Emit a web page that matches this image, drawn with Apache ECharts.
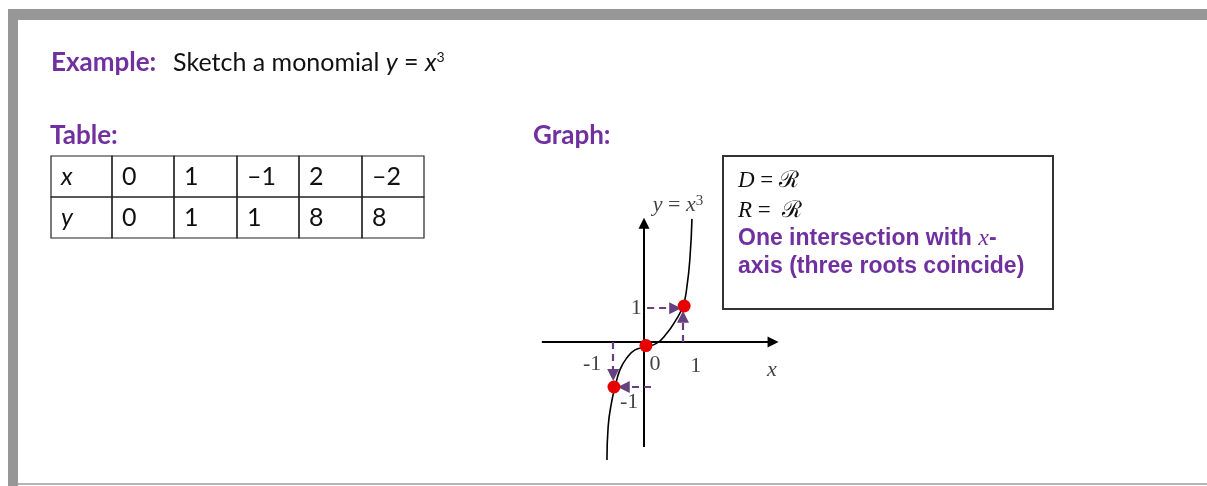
<!DOCTYPE html>
<html>
<head>
<meta charset="utf-8">
<script src="https://cdn.jsdelivr.net/npm/echarts@6/dist/echarts.min.js"></script>
<style>
  html, body { margin: 0; padding: 0; background: #fff; }
  #main { width: 1207px; height: 486px; }
</style>
</head>
<body>
<div id="main"></div>
<script>
// table contents
const tableRowNames = ['x', 'y'];
const tableX = ['0', '1', '–1', '2', '–2'];
const tableY = ['0', '1', '1', '8', '8'];

// curve y = x^3 as sketched
const curveX = [-0.95, -0.92, -0.82, -0.74, -0.62, -0.44, -0.23, 0.03, 0.33, 0.59, 0.79, 1.0, 1.10, 1.18, 1.23];
const curveY = [-3.28, -2.36, -1.61, -1.25, -0.78, -0.44, -0.22, -0.14, -0.03, 0.25, 0.56, 1.0, 1.53, 2.36, 3.42];

// red points
const dotX = [0.05, 1.03, -0.77];
const dotY = [-0.1, 1.0, -1.25];

// axis arrows [from, to]
const axisArrows = [
  [[-2.62, 0], [3.31, 0]],
  [[0, -2.92], [0, 3.3]]
];
// dashed guide arrows [from, to]
const guideArrows = [
  [[0.08, 0.94], [0.8, 0.94]],
  [[1.0, 0], [1.0, 0.7]],
  [[-0.79, 0], [-0.79, -0.92]],
  [[0.18, -1.25], [-0.52, -1.25]]
];

// tick labels
const tickText = ['-1', '0', '1', '1', '-1'];
const tickX = [-1.33, 0.28, 1.33, -0.2, -0.38];
const tickY = [-0.61, -0.61, -0.67, 0.94, -1.67];

const purple = '#7030a0';
const serif = '"Liberation Serif", "DejaVu Serif", serif';
const sans = 'Lato, "Open Sans", sans-serif';
const arial = '"Liberation Sans", Arial, sans-serif';

const chart = echarts.init(document.getElementById('main'));

// frame and headings
const graphics = [
  { type: 'rect', shape: { x: 8, y: 9, width: 1199, height: 11 }, style: { fill: '#979797' } },
  { type: 'rect', shape: { x: 8, y: 9, width: 10, height: 477 }, style: { fill: '#979797' } },
  { type: 'rect', shape: { x: 18, y: 483, width: 1189, height: 2 }, style: { fill: '#b4b4b4' } },
  {
    type: 'text', x: 51, y: 63,
    style: {
      text: '{b|Example:}  Sketch a monomial {i|y} = {i|x}{s|3}',
      font: '25px ' + sans, fill: '#111', verticalAlign: 'middle',
      rich: {
        b: { fontFamily: sans, fontSize: 26, fontWeight: 'bold', fill: purple, padding: [0, 4, 0, 0] },
        i: { fontFamily: sans, fontSize: 25, fontStyle: 'italic', fill: '#111' },
        s: { fontFamily: sans, fontSize: 14, fill: '#111', verticalAlign: 'top', padding: [0, 0, 9, 0] }
      }
    }
  },
  { type: 'text', x: 50, y: 136, style: { text: 'Table:', font: 'bold 26px ' + sans, fill: purple, verticalAlign: 'middle' } },
  { type: 'text', x: 533, y: 136, style: { text: 'Graph:', font: 'bold 26px ' + sans, fill: purple, verticalAlign: 'middle' } }
];

// table
const colX = [51, 112, 174, 237, 299, 362, 424];
const rowY = [156, 197, 238];
[tableX, tableY].forEach(function (row, r) {
  const cells = [tableRowNames[r]].concat(row);
  cells.forEach(function (txt, c) {
    graphics.push({
      type: 'rect',
      shape: { x: colX[c], y: rowY[r], width: colX[c + 1] - colX[c], height: rowY[r + 1] - rowY[r] },
      style: { fill: 'none', stroke: '#222', lineWidth: 1.2 }
    });
    graphics.push({
      type: 'text', x: colX[c] + 10, y: (rowY[r] + rowY[r + 1]) / 2,
      style: {
        text: txt, fill: '#111', verticalAlign: 'middle',
        font: (c === 0 ? 'italic ' : '') + '25px ' + sans
      }
    });
  });
});

// info box
graphics.push(
  { type: 'rect', shape: { x: 723, y: 156, width: 330, height: 153 }, style: { fill: '#fff', stroke: '#333', lineWidth: 2 } },
  {
    type: 'text', x: 738, y: 181,
    style: {
      text: '{i|D} = ℛ', verticalAlign: 'middle', font: '23px ' + serif, fill: '#111',
      rich: { i: { fontFamily: serif, fontSize: 23, fontStyle: 'italic', fill: '#111' } }
    }
  },
  {
    type: 'text', x: 738, y: 211,
    style: {
      text: '{i|R} =  ℛ', verticalAlign: 'middle', font: '23px ' + serif, fill: '#111',
      rich: { i: { fontFamily: serif, fontSize: 23, fontStyle: 'italic', fill: '#111' } }
    }
  },
  {
    type: 'text', x: 738, y: 239,
    style: {
      text: 'One intersection with {x|x}-', verticalAlign: 'middle',
      font: 'bold 23px ' + arial, fill: purple,
      rich: { x: { fontFamily: serif, fontSize: 24, fontStyle: 'italic', fill: purple } }
    }
  },
  {
    type: 'text', x: 738, y: 267,
    style: { text: 'axis (three roots coincide)', verticalAlign: 'middle', font: 'bold 23px ' + arial, fill: purple }
  }
);

const option = {
  animation: false,
  backgroundColor: '#fff',
  graphic: graphics,
  grid: { left: 527, top: 198, width: 273, height: 288 },
  xAxis: { type: 'value', min: -3, max: 4, show: false },
  yAxis: { type: 'value', min: -4, max: 4, show: false },
  series: [
    {
      type: 'lines', coordinateSystem: 'cartesian2d', z: 3,
      symbol: ['none', 'triangle'], symbolSize: [12, 11],
      lineStyle: { color: '#000', width: 2, opacity: 1 },
      data: axisArrows.map(function (a) { return { coords: a }; })
    },
    {
      type: 'lines', coordinateSystem: 'cartesian2d', z: 4,
      symbol: ['none', 'triangle'], symbolSize: [13, 12],
      lineStyle: { color: '#66407f', width: 2.2, type: [7, 5], opacity: 1 },
      data: guideArrows.map(function (a) { return { coords: a }; })
    },
    {
      type: 'line', smooth: true, symbol: 'none', clip: false, z: 5,
      lineStyle: { color: '#000', width: 1.6 },
      data: curveX.map(function (x, i) { return [x, curveY[i]]; })
    },
    {
      type: 'scatter', symbolSize: 13, z: 6,
      itemStyle: { color: '#e60000', opacity: 1 },
      data: dotX.map(function (x, i) { return [x, dotY[i]]; })
    },
    {
      type: 'scatter', symbolSize: 0, z: 7, silent: true,
      label: {
        show: true, position: 'inside', color: '#111',
        fontFamily: serif, fontSize: 22,
        formatter: function (p) { return tickText[p.dataIndex]; }
      },
      data: tickX.map(function (x, i) { return [x, tickY[i]]; })
    },
    {
      type: 'scatter', symbolSize: 0, z: 7, silent: true,
      label: {
        show: true, position: 'inside', color: '#111', fontFamily: serif, fontSize: 22,
        formatter: function (p) { return p.dataIndex === 0 ? '{i|x}' : '{i|y} = {i|x}{s|3}'; },
        rich: {
          i: { fontFamily: serif, fontSize: 22, fontStyle: 'italic', color: '#111' },
          s: { fontFamily: serif, fontSize: 15, color: '#111', verticalAlign: 'top', padding: [0, 0, 9, 0] }
        }
      },
      data: [[3.28, -0.78], [0.87, 3.8]]
    }
  ]
};

chart.setOption(option);
</script>
</body>
</html>
